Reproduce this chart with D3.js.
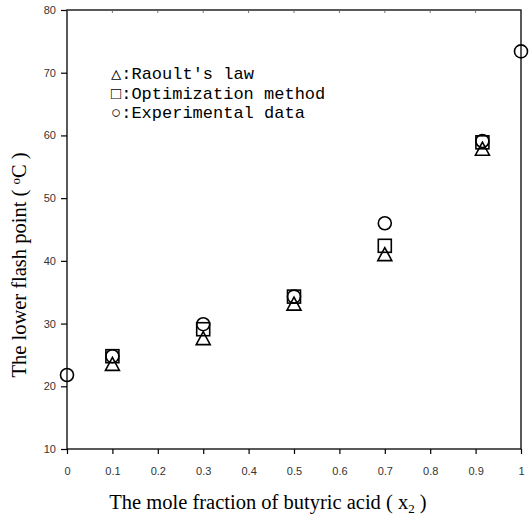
<!DOCTYPE html>
<html><head><meta charset="utf-8">
<script src="https://cdn.jsdelivr.net/npm/d3@7"></script>
<style>body{margin:0;background:#fff}svg{display:block}</style>
</head><body>
<script>
const xTicks = [0,0.1,0.2,0.3,0.4,0.5,0.6,0.7,0.8,0.9,1];
const xTickLabels = ["0","0.1","0.2","0.3","0.4","0.5","0.6","0.7","0.8","0.9","1"];
const yTicks = [10,20,30,40,50,60,70,80];
const raoultX = [0.1,0.3,0.5,0.7,0.915];
const raoultY = [23.5,27.6,33.1,41.0,57.8];
const optX = [0.1,0.3,0.5,0.7,0.915];
const optY = [24.8,29.1,34.3,42.4,58.9];
const expX = [0,0.1,0.3,0.5,0.7,0.915,1.0];
const expY = [21.8,24.8,29.9,34.3,46.0,59.1,73.4];
const legendLabels = ["\u25B3:Raoult's law","\u25A1:Optimization method","\u25CB:Experimental data"];

const W=530,H=518;
const svg=d3.select("body").append("svg").attr("width",W).attr("height",H);
const x=d3.scaleLinear().domain([0,1]).range([67,521]);
const y=d3.scaleLinear().domain([10,80]).range([449,10]);

svg.append("rect").attr("x",67).attr("y",10).attr("width",454).attr("height",439)
  .attr("fill","none").attr("stroke","#000").attr("stroke-width",1.3);

const xa=svg.append("g").attr("transform","translate(0,449)")
  .call(d3.axisBottom(x).tickValues(xTicks).tickFormat((d,i)=>xTickLabels[i]).tickSize(5).tickPadding(13));
const ya=svg.append("g").attr("transform","translate(67,0)")
  .call(d3.axisLeft(y).tickValues(yTicks).tickSize(6).tickPadding(5));
[xa,ya].forEach(a=>{
  a.select(".domain").remove();
  a.selectAll("line").attr("stroke","#000").attr("stroke-width",1.2);
  a.selectAll("text").attr("font-family","Liberation Sans, Arial, sans-serif").attr("font-size",11).attr("fill","#333");
});
svg.append("g").selectAll("line").data(xTicks).join("line")
  .attr("x1",d=>x(d)).attr("x2",d=>x(d)).attr("y1",10).attr("y2",13)
  .attr("stroke","#555").attr("stroke-width",0.8);

const g=svg.append("g").attr("fill","none").attr("stroke","#000").attr("stroke-width",1.6);
g.selectAll("path.tri").data(raoultX.map((d,i)=>[d,raoultY[i]])).join("path")
  .attr("d",d=>{const cx=x(d[0]),cy=y(d[1]);return `M${cx},${cy-7}L${cx+7},${cy+6}L${cx-7},${cy+6}Z`;});
g.selectAll("rect.sq").data(optX.map((d,i)=>[d,optY[i]])).join("rect")
  .attr("x",d=>x(d[0])-6.5).attr("y",d=>y(d[1])-6.5).attr("width",13).attr("height",13);
g.selectAll("circle").data(expX.map((d,i)=>[d,expY[i]])).join("circle")
  .attr("cx",d=>x(d[0])).attr("cy",d=>y(d[1])).attr("r",6.5);

svg.append("g").selectAll("text").data(legendLabels).join("text")
  .attr("x",111).attr("y",(d,i)=>79+i*19.5)
  .attr("font-family","Liberation Mono, DejaVu Sans Mono, monospace").attr("font-size",17)
  .attr("fill","#000").text(d=>d);

const xl=svg.append("text").attr("x",268).attr("y",509).attr("text-anchor","middle")
  .attr("font-family","Liberation Serif, Times New Roman, serif").attr("font-size",20.5).attr("fill","#000");
xl.append("tspan").text("The mole fraction of butyric acid ( x");
xl.append("tspan").attr("font-size",13).attr("dy",4).text("2");
xl.append("tspan").attr("dy",-4).text(" )");

const yl=svg.append("text").attr("transform","translate(26,265) rotate(-90)").attr("text-anchor","middle")
  .attr("font-family","Liberation Serif, Times New Roman, serif").attr("font-size",20.5).attr("fill","#000");
yl.append("tspan").text("The lower flash point ( ");
yl.append("tspan").attr("font-size",13).attr("dy",-6).text("o");
yl.append("tspan").attr("dy",6).text("C )");
</script>
</body></html>
